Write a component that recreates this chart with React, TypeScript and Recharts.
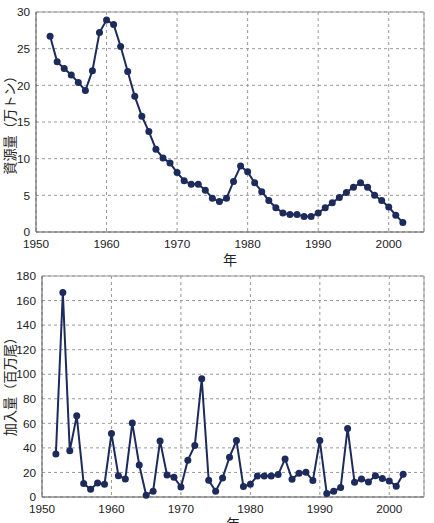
import React from "react";
import { LineChart, Line, XAxis, YAxis, CartesianGrid, ReferenceLine } from "recharts";

const years = [
    1952, 1953, 1954, 1955, 1956, 1957, 1958, 1959, 1960, 1961, 1962, 1963, 1964, 1965, 1966, 1967, 1968,
    1969, 1970, 1971, 1972, 1973, 1974, 1975, 1976, 1977, 1978, 1979, 1980, 1981, 1982, 1983, 1984, 1985,
    1986, 1987, 1988, 1989, 1990, 1991, 1992, 1993, 1994, 1995, 1996, 1997, 1998, 1999, 2000, 2001, 2002,
];

// 資源量 (万トン)
const stock = [
    26.7, 23.2, 22.3, 21.4, 20.4, 19.3, 22.0, 27.2, 28.9, 28.3, 25.3, 21.9, 18.5, 15.8, 13.7, 11.3, 10.1,
    9.4, 8.1, 7.0, 6.5, 6.5, 5.7, 4.6, 4.15, 4.6, 6.9, 9.0, 8.2, 6.7, 5.5, 4.3, 3.3, 2.6,
    2.4, 2.4, 2.1, 2.1, 2.6, 3.3, 4.0, 4.7, 5.4, 6.1, 6.7, 6.1, 5.0, 4.3, 3.4, 2.3, 1.3,
];

// 加入量 (百万尾)
const recruits = [
    35.1, 166.5, 37.6, 66.1, 10.9, 6.3, 11.4, 10.4, 51.7, 17.4, 14.7, 60.2, 26.1, 1.4, 4.7, 45.7, 18.0,
    16.1, 8.2, 30.0, 42.0, 96.3, 13.6, 4.7, 15.5, 32.4, 46.0, 8.5, 10.4, 17.1, 17.1, 17.1, 18.3, 31.0,
    14.4, 19.3, 20.2, 13.4, 46.0, 2.8, 4.7, 7.7, 55.8, 12.0, 14.7, 12.3, 17.4, 15.0, 13.1, 8.7, 18.5,
];

const xTicks = [1950, 1960, 1970, 1980, 1990, 2000];
const stockTicks = [0, 5, 10, 15, 20, 25, 30];
const recruitTicks = [0, 20, 40, 60, 80, 100, 120, 140, 160, 180];

const stockData = years.map((y, i) => ({ year: y, value: stock[i] }));
const recruitData = years.map((y, i) => ({ year: y, value: recruits[i] }));

const NAVY = "#1d2b5c";
const tickStyle = { fontSize: 11.8, fill: "#222", fontFamily: "'Liberation Sans', Arial, sans-serif" };
const jpFont = "'Noto Sans CJK JP', sans-serif";

function yTitle(text: string, shift: number) {
    return (props: any) => {
        const vb = props.viewBox || {};
        const cx = 9;
        const cy = vb.y + vb.height / 2 + shift;
        return (
            <text
                x={cx}
                y={cy}
                transform={`rotate(-90, ${cx}, ${cy})`}
                textAnchor="middle"
                dominantBaseline="central"
                fontSize={13.2}
                fill="#222"
                fontFamily={jpFont}
            >
                {text}
            </text>
        );
    };
}

function Panel({ data, ticks, max, yWidth, title, titleShift, top, height, marginTop, xHeight, labelOffset }: any) {
    return (
        <div style={{ position: "absolute", left: 0, top, width: 434, height }}>
            <LineChart width={434} height={height} data={data} margin={{ top: marginTop, right: 10, left: 6, bottom: 0 }}>
                <CartesianGrid stroke="#999" strokeDasharray="3 3" />
                <XAxis
                    dataKey="year"
                    type="number"
                    domain={[1950, 2005]}
                    ticks={xTicks}
                    height={xHeight}
                    tick={tickStyle}
                    tickLine={false}
                    stroke="#555"
                    label={{ value: "年", position: "insideBottom", offset: labelOffset, fontSize: 14, fill: "#222", fontFamily: jpFont }}
                />
                <YAxis
                    type="number"
                    domain={[0, max]}
                    ticks={ticks}
                    width={yWidth}
                    tick={tickStyle}
                    tickLine={false}
                    tickMargin={0}
                    stroke="#555"
                    label={yTitle(title, titleShift)}
                />
                <ReferenceLine y={max} stroke="#999" />
                <ReferenceLine x={2005} stroke="#999" />
                <Line
                    type="linear"
                    dataKey="value"
                    stroke={NAVY}
                    strokeWidth={2}
                    dot={{ r: 3.5, fill: NAVY, stroke: NAVY, strokeWidth: 0 }}
                    isAnimationActive={false}
                />
            </LineChart>
        </div>
    );
}

export default function App() {
    return (
        <div style={{ position: "absolute", left: 0, top: 0, width: 434, height: 523, overflow: "hidden", background: "#fff" }}>
            <Panel data={stockData} ticks={stockTicks} max={30} yWidth={30} title="資源量（万トン）" titleShift={0} top={0} height={268} marginTop={12} xHeight={36} labelOffset={3} />
            <Panel data={recruitData} ticks={recruitTicks} max={180} yWidth={36} title="加入量（百万尾）" titleShift={-3} top={268} height={263} marginTop={8} xHeight={34} labelOffset={2} />
        </div>
    );
}
